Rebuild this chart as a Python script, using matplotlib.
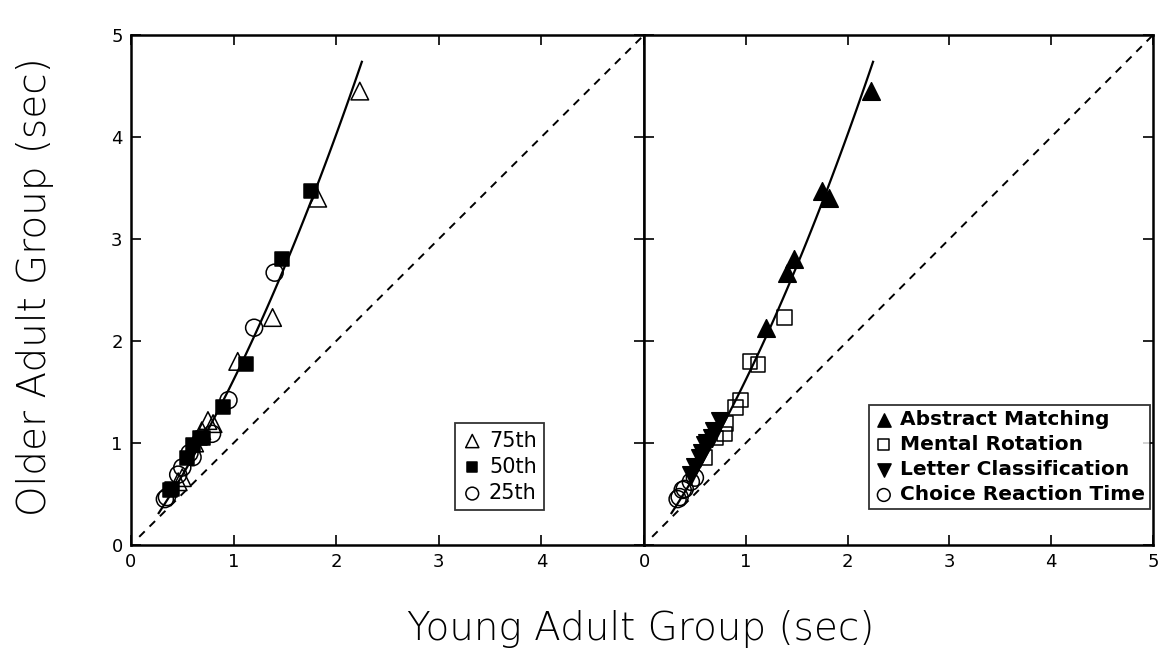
import matplotlib.pyplot as plt
import numpy as np

# response times (sec): young adult group vs older adult group
young = [2.23, 1.75, 1.40, 1.82, 1.47, 1.20,
         1.38, 1.12, 0.95, 1.04, 0.90, 0.79, 0.80, 0.70, 0.60,
         0.75, 0.67, 0.57, 0.69, 0.60, 0.50, 0.62, 0.55, 0.46,
         0.50, 0.40, 0.35, 0.46, 0.38, 0.33]
older = [4.45, 3.47, 2.67, 3.40, 2.80, 2.13,
         2.23, 1.77, 1.42, 1.80, 1.35, 1.09, 1.19, 1.05, 0.86,
         1.22, 1.05, 0.90, 1.12, 0.98, 0.76, 1.00, 0.85, 0.69,
         0.66, 0.55, 0.47, 0.62, 0.54, 0.45]
percentile = ['75th', '50th', '25th'] * 10
task = (['Abstract Matching'] * 6 + ['Mental Rotation'] * 9 +
        ['Letter Classification'] * 9 + ['Choice Reaction Time'] * 6)

# fitted curve (quadratic) and the equality line
fit_coef = [0.355, 1.34, -0.075]
fit_range = [0.27, 2.25]
diag = [0.08, 5]

young = np.array(young)
older = np.array(older)
percentile = np.array(percentile)
task = np.array(task)

pct_style = {'75th': dict(marker='^', facecolors='none', s=160),
             '50th': dict(marker='s', facecolors='k', s=105),
             '25th': dict(marker='o', facecolors='none', s=150)}
task_style = {'Abstract Matching': dict(marker='^', facecolors='k', s=160),
              'Mental Rotation': dict(marker='s', facecolors='none', s=110),
              'Letter Classification': dict(marker='v', facecolors='k', s=160),
              'Choice Reaction Time': dict(marker='o', facecolors='none', s=150)}

plt.rcParams['font.family'] = ['DejaVu Sans']
fig = plt.figure(figsize=(11.64, 6.66), dpi=100)
ax1 = fig.add_axes([131 / 1164, 1 - 545 / 666, 513 / 1164, 510 / 666])
ax2 = fig.add_axes([644 / 1164, 1 - 545 / 666, 509 / 1164, 510 / 666])

fx = np.linspace(fit_range[0], fit_range[1], 50)
fy = np.polyval(fit_coef, fx)

for ax in (ax1, ax2):
    ax.plot(fx, fy, color='k', lw=1.6, zorder=4)
    ax.plot(diag, diag, color='k', lw=1.4, ls=(0, (4, 3.5)), zorder=1)
    ax.set_xlim(0, 5)
    ax.set_ylim(0, 5)
    ax.set_xticks(range(6))
    ax.set_yticks(range(6))
    ax.tick_params(direction='in', top=True, right=True, length=7, width=1.2,
                   labelsize=13, pad=6)
    for sp in ax.spines.values():
        sp.set_linewidth(1.8)

# left panel: percentiles
for p in ['75th', '50th', '25th']:
    m = percentile == p
    ax1.scatter(young[m], older[m], edgecolors='k', linewidths=1.1,
                label=p, zorder=3, **pct_style[p])

# right panel: tasks
for t in task_style:
    m = task == t
    ax2.scatter(young[m], older[m], edgecolors='k', linewidths=1.1,
                label=t, zorder=3, **task_style[t])

ax1.set_xticklabels(['0', '1', '2', '3', '4', ''])
ax2.set_yticklabels([])

leg1 = ax1.legend(loc='lower right', bbox_to_anchor=(0.805, 0.068), fontsize=15,
                  handletextpad=0.3, handlelength=1.0, borderpad=0.35,
                  borderaxespad=0, labelspacing=0.3, fancybox=False,
                  edgecolor='k', markerscale=0.75)
leg1.get_frame().set_linewidth(1.3)
leg2 = ax2.legend(loc='lower right', bbox_to_anchor=(0.994, 0.07),
                  prop=dict(size=14.5, weight='bold'),
                  handletextpad=0.3, handlelength=1.0, borderpad=0.25,
                  borderaxespad=0, labelspacing=0.3, fancybox=False,
                  edgecolor='k', markerscale=0.75)
leg2.get_frame().set_linewidth(1.3)

fig.text(0.55, 0.055, 'Young Adult Group (sec)', ha='center', va='center',
         fontsize=28, fontweight='light')
fig.text(0.03, 0.57, 'Older Adult Group (sec)', ha='center', va='center',
         rotation=90, fontsize=28, fontweight='light')

fig.savefig('out.png', dpi=100)
plt.close(fig)
